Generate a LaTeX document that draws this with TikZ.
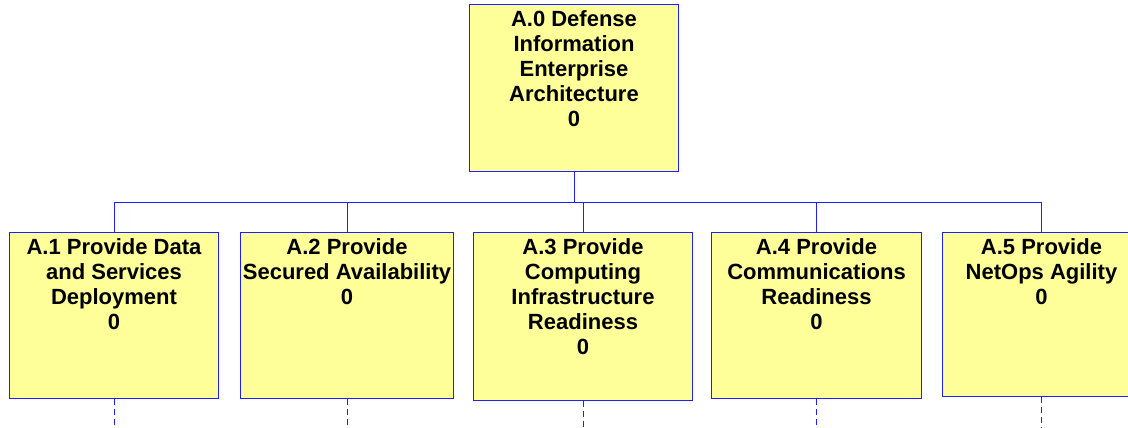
\documentclass[tikz,border=0pt]{standalone}
\usepackage{fontspec}
\setmainfont{Liberation Sans}
\definecolor{boxfill}{HTML}{FFFF99}
\definecolor{lineblue}{RGB}{30,30,255}
\begin{document}
\begin{tikzpicture}[x=1pt,y=-1pt,
  actbox/.style={draw=lineblue, line width=1pt, fill=boxfill, rectangle, inner sep=0pt, anchor=north west},
  acttext/.style={anchor=north, inner sep=0pt, align=center, font=\bfseries\fontsize{22}{25}\selectfont},
  conn/.style={draw=lineblue, line width=1pt},
  dashconn/.style={draw=lineblue, line width=1pt, dash pattern=on 6pt off 4pt}]
\useasboundingbox (0,0) rectangle (1128,428);
\clip (0,0) rectangle (1128,428);
\coordinate (bus) at (0,202);
\coordinate (bottom) at (0,430);
% boxes
\node[actbox, minimum width=209pt, minimum height=167pt] (a0) at (469,4) {};
\node[actbox, minimum width=209pt, minimum height=166pt] (a1) at (9,232) {};
\node[actbox, minimum width=213pt, minimum height=166pt] (a2) at (240,232) {};
\node[actbox, minimum width=219pt, minimum height=168pt] (a3) at (473,232) {};
\node[actbox, minimum width=210pt, minimum height=166pt] (a4) at (711,232) {};
\node[actbox, minimum width=198pt, minimum height=164pt] (a5) at (942,232) {};
% texts
\node[acttext] (t0) at ([yshift=-6.5pt]a0.north) {A.0 Defense\\Information\\Enterprise\\Architecture\\0};
\node[acttext] (t1) at ([yshift=-6.5pt]a1.north) {A.1 Provide Data\\and Services\\Deployment\\0};
\node[acttext] (t2) at ([yshift=-6.5pt]a2.north) {A.2 Provide\\Secured Availability\\0};
\node[acttext] (t3) at ([yshift=-6.5pt]a3.north) {A.3 Provide\\Computing\\Infrastructure\\Readiness\\0};
\node[acttext] (t4) at ([yshift=-6.5pt]a4.north) {A.4 Provide\\Communications\\Readiness\\0};
\node[acttext] (t5) at ([yshift=-6.5pt]a5.north) {A.5 Provide\\NetOps Agility\\0};
% connectors
\draw[conn] (a0.south) -- (a0.south |- bus);
\draw[conn] (a1.north |- bus) -- (a5.north |- bus);
\foreach \n in {a1,a2,a3,a4,a5} {
  \draw[conn] (\n.north |- bus) -- (\n.north);
  \draw[dashconn] (\n.south) -- (\n.south |- bottom);
}
\end{tikzpicture}
\end{document}
